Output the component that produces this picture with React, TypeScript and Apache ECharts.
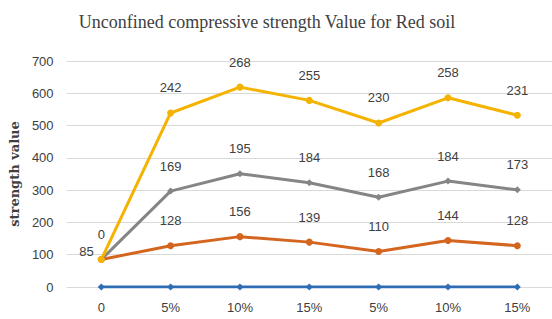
import React, { useEffect, useRef } from "react";
import * as echarts from "echarts";

const categories = ["0", "5%", "10%", "15%", "5%", "10%", "15%"];
const seriesBlue = [0, 0, 0, 0, 0, 0, 0];
const seriesOrange = [85, 128, 156, 139, 110, 144, 128];
const seriesGray = [0, 169, 195, 184, 168, 184, 173];
const seriesYellow = [0, 242, 268, 255, 230, 258, 231];
const yTicks = { min: 0, max: 700, interval: 100 };
const titleText = "Unconfined compressive strength Value for Red soil";
const yName = "strength value";

const labelFont = "'Liberation Sans', sans-serif";

export default function App() {
  const ref = useRef<HTMLDivElement>(null);
  useEffect(() => {
    if (!ref.current) return;
    const chart = echarts.init(ref.current, undefined, { renderer: "svg" });
    const mkLabel = (show: boolean) => ({
      show,
      position: "top" as const,
      distance: 15,
      color: "#404040",
      fontSize: 13,
      fontFamily: labelFont,
    });
    const mk = (name: string, data: any[], color: string, showLabel: boolean, symbol = "circle") => ({
      name,
      type: "line" as const,
      stack: "total",
      data,
      symbol,
      symbolSize: 7,
      lineStyle: { color, width: 3 },
      itemStyle: { color },
      label: mkLabel(showLabel),
      z: 3,
    });
    const orangeData = seriesOrange.map((v, i) =>
      i === 0
        ? { value: v, label: { position: "left", distance: 4, offset: [0, -8] } }
        : v
    );
    const yellowData = seriesYellow.map((v, i) =>
      i === 0 ? { value: v, label: { show: false } } : v
    );
    chart.setOption({
      animation: false,
      backgroundColor: "#ffffff",
      title: {
        text: titleText,
        left: 262,
        textAlign: "center",
        top: 8,
        textStyle: {
          fontFamily: "'Liberation Serif', serif",
          fontSize: 18,
          fontWeight: "normal",
          color: "#404040",
        },
      },
      grid: { left: 63, right: 0, top: 61, bottom: 32 },
      xAxis: {
        type: "category",
        data: categories,
        boundaryGap: true,
        axisLine: { show: false },
        axisTick: { show: false },
        axisLabel: {
          color: "#404040",
          fontSize: 13,
          fontFamily: labelFont,
          margin: 14,
        },
      },
      yAxis: {
        type: "value",
        min: yTicks.min,
        max: yTicks.max,
        interval: yTicks.interval,
        name: yName,
        nameLocation: "middle",
        nameGap: 45,
        nameTextStyle: {
          fontFamily: "'DejaVu Serif', serif",
          fontSize: 13,
          fontWeight: "bold",
          color: "#404040",
        },
        axisLine: { show: false },
        axisTick: { show: false },
        axisLabel: {
          color: "#404040",
          fontSize: 13,
          fontFamily: labelFont,
          margin: 13,
        },
        splitLine: { lineStyle: { color: "#d9d9d9", width: 1 } },
      },
      series: [
        mk("Blue", seriesBlue, "#2E6DB4", false, "diamond"),
        mk("Orange", orangeData, "#D4651E", true),
        mk("Gray", seriesGray, "#858585", true, "diamond"),
        mk("Yellow", yellowData, "#F5B301", true),
      ],
    });
    return () => chart.dispose();
  }, []);
  return (
    <div
      ref={ref}
      style={{ position: "absolute", left: 0, top: 0, width: 552, height: 319 }}
    />
  );
}
